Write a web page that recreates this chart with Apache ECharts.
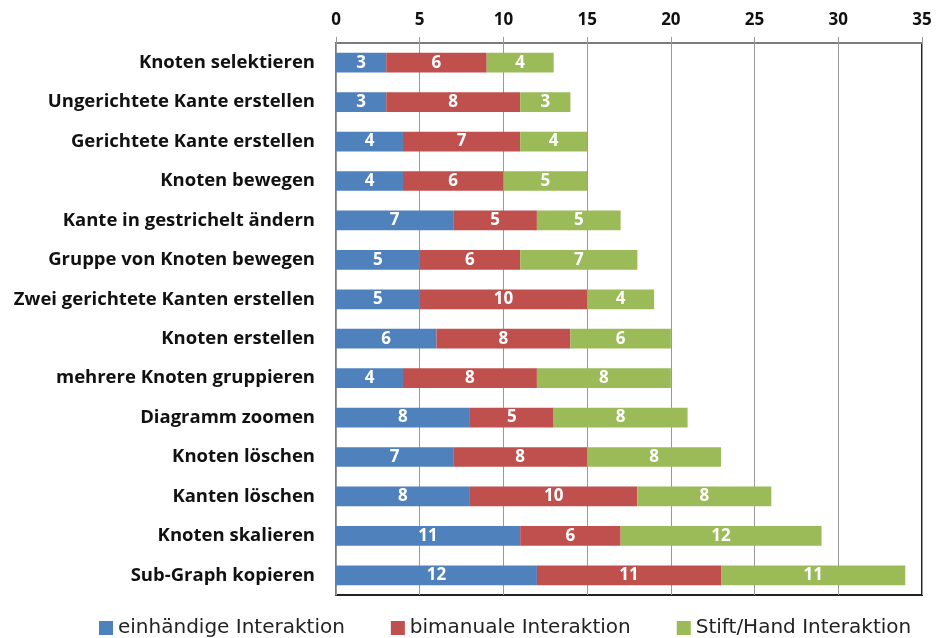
<!DOCTYPE html>
<html><head><meta charset="utf-8">
<script src="https://cdn.jsdelivr.net/npm/echarts@6/dist/echarts.min.js"></script>
<style>html,body{margin:0;padding:0;background:#fff}#c{width:939px;height:638px}</style>
</head><body><div id="c"></div>
<script>
const categories = ["Knoten selektieren","Ungerichtete Kante erstellen","Gerichtete Kante erstellen","Knoten bewegen","Kante in gestrichelt ändern","Gruppe von Knoten bewegen","Zwei gerichtete Kanten erstellen","Knoten erstellen","mehrere Knoten gruppieren","Diagramm zoomen","Knoten löschen","Kanten löschen","Knoten skalieren","Sub-Graph kopieren"];
const einhaendig = [3,3,4,4,7,5,5,6,4,8,7,8,11,12];
const bimanual = [6,8,7,6,5,6,10,8,8,5,8,10,6,11];
const stiftHand = [4,3,4,5,5,7,4,6,8,8,8,8,12,11];
const seriesNames = ["einhändige Interaktion","bimanuale Interaktion","Stift/Hand Interaktion"];
const colors = ["#4F81BD","#C0504D","#9BBB59"];
const font = "'Open Sans', sans-serif";
const chart = echarts.init(document.getElementById('c'));
const mk = (name, data, color) => ({
  name, type:'bar', stack:'total', data, barWidth:'50%',
  itemStyle:{color},
  label:{show:true, position:'inside', color:'#fff', fontWeight:'bold', fontSize:17, fontFamily:font}
});
chart.setOption({
  animation:false,
  grid:{left:336, right:17, top:43, bottom:43, show:true, borderColor:'#222', borderWidth:2},
  xAxis:{type:'value', position:'top', min:0, max:35, interval:5,
    axisLine:{show:true, lineStyle:{color:'#999', width:1.5}},
    axisTick:{show:true, length:6, lineStyle:{color:'#999'}},
    splitLine:{lineStyle:{color:'#999'}},
    axisLabel:{color:'#111', fontWeight:'bold', fontSize:17, fontFamily:font, margin:14}},
  yAxis:{type:'category', data:categories, inverse:true,
    axisLine:{show:true, lineStyle:{color:'#999', width:1.5}}, axisTick:{show:false},
    axisLabel:{color:'#111', fontWeight:'bold', fontSize:18.5, fontFamily:font, margin:21}},
  legend:{top:613, left:94, itemWidth:14, itemHeight:14, itemGap:46, icon:'rect',
    textStyle:{fontSize:20, fontFamily:"'DejaVu Sans', sans-serif", color:'#222'}, data:seriesNames},
  series:[mk(seriesNames[0], einhaendig, colors[0]), mk(seriesNames[1], bimanual, colors[1]), mk(seriesNames[2], stiftHand, colors[2])]
});
</script></body></html>
